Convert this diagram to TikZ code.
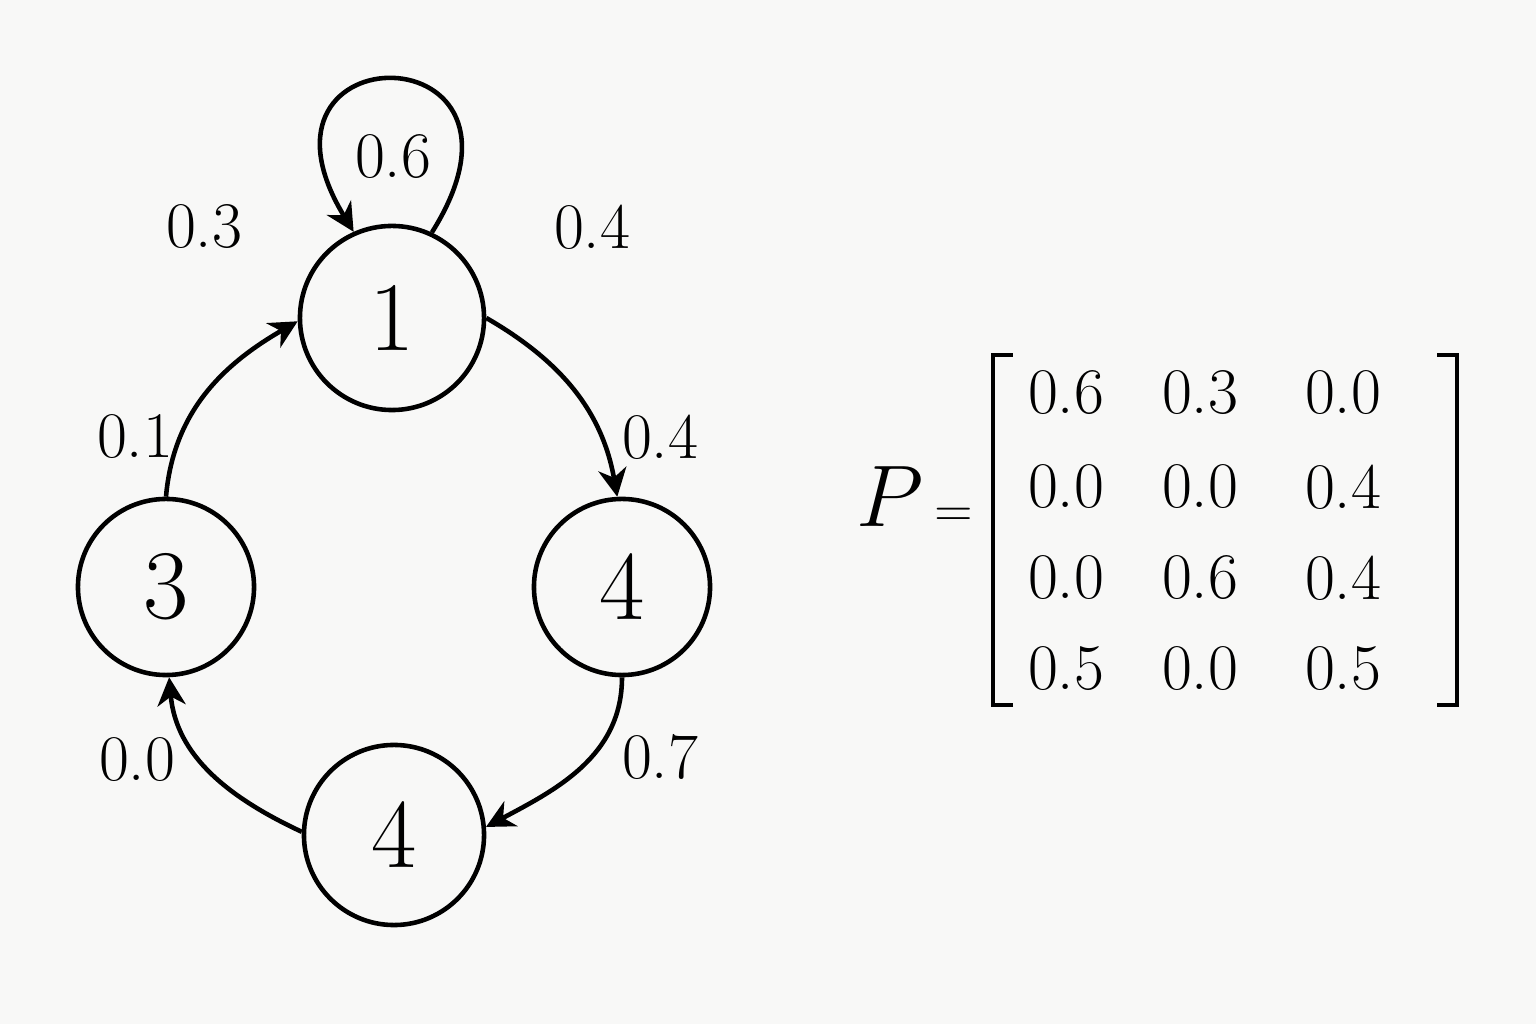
\documentclass[tikz,border=0pt]{standalone}
\usepackage{xcolor}
\usepackage{tikz}
\usetikzlibrary{arrows.meta}

\definecolor{paper}{RGB}{248,248,247}

\tikzset{
	state/.style={circle,draw,line width=1.3pt,inner sep=0pt,font=\fontsize{28}{30}\selectfont},
	arr/.style={line width=1.3pt,-{Stealth[length=8pt,width=8pt,inset=2.5pt]}},
	prob/.style={inner sep=0pt,font=\fontsize{18.5}{21}\selectfont},
	entry/.style={inner sep=0pt,font=\fontsize{18.5}{21}\selectfont},
	brk/.style={line width=1.3pt}
}

\begin{document}
\begin{tikzpicture}[x=0.01cm,y=0.01cm]
	\fill[paper] (0,0) rectangle (1536,1024);
	\useasboundingbox (0,0) rectangle (1536,1024);

	% states
	\node[state,minimum size=1.84cm] (n1) at (392,706) {1};
	\node[state,minimum size=1.76cm] (n3) at (166,437) {3};
	\node[state,minimum size=1.76cm] (n4r) at (622,437) {4};
	\node[state,minimum size=1.80cm] (n4b) at (394,189) {4};

	% transitions
	\draw[arr] (n1.65) .. controls (560,995) and (230,995) .. (n1.114);
	\draw[arr] (n1.0) to[out=-30,in=100] (n4r.93);
	\draw[arr] (n4r.-90) to[out=-90,in=28] (n4b.5);
	\draw[arr] (n4b.178) to[out=155,in=-85] (n3.-88);
	\draw[arr] (n3.90) to[out=85,in=-150] (n1.182);

	% probabilities
	\node[prob] (p11) at (393,867) {0.6};
	\node[prob] (pa) at (204,797) {0.3};
	\node[prob] (pb) at (592,797) {0.4};
	\node[prob] (pc) at (135,587) {0.1};
	\node[prob] (pd) at (660,587) {0.4};
	\node[prob] (pe) at (137,264) {0.0};
	\node[prob] (pf) at (660,267) {0.7};

	% matrix
	\node[inner sep=0pt] (lhs) at (915,527) {\fontsize{25}{28}\selectfont$P$\kern3pt{\fontsize{14}{16}\selectfont$=$}};
	\draw[brk] (1013,319) -- (993,319) -- (993,669) -- (1013,669);
	\draw[brk] (1437,319) -- (1457,319) -- (1457,669) -- (1437,669);
	\foreach \r/\y/\a/\b/\c in {1/631/0.6/0.3/0.0, 2/537/0.0/0.0/0.4, 3/446/0.0/0.6/0.4, 4/355/0.5/0.0/0.5}{
		\node[entry] (m-\r-1) at (1066,\y) {\a};
		\node[entry] (m-\r-2) at (1200,\y) {\b};
		\node[entry] (m-\r-3) at (1343,\y) {\c};
	}
\end{tikzpicture}
\end{document}
